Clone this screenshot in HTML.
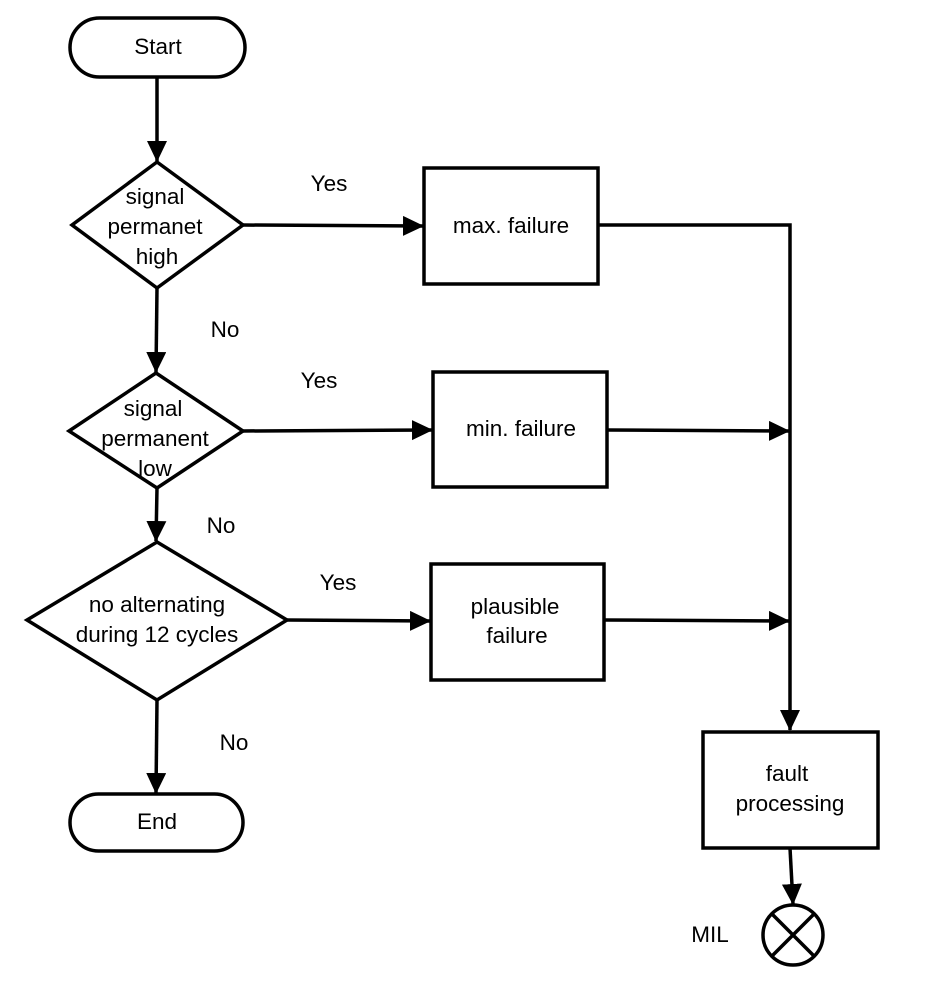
<!DOCTYPE html>
<html><head><meta charset="utf-8"><style>
html,body{margin:0;padding:0;background:#fff;}
svg{display:block;}
text{font-family:"Liberation Sans",Arial,sans-serif;font-size:22.5px;fill:#000;text-anchor:middle;}
</style></head><body>
<svg width="928" height="982" viewBox="0 0 928 982" xmlns="http://www.w3.org/2000/svg">
<defs>
<marker id="a" markerWidth="22" markerHeight="22" refX="20" refY="10" orient="auto" markerUnits="userSpaceOnUse">
<path d="M0,0 L21,10 L0,20 Z" fill="#000"/>
</marker>
</defs>
<g fill="none" stroke="#000" stroke-width="3.5">
<rect x="70" y="18" width="175" height="59" rx="29.5"/>
<rect x="70" y="794" width="173" height="57" rx="28.5"/>
<polygon points="157,162 243,225 157,288 72,225"/>
<polygon points="156,373 243,431 157,488 69,431"/>
<polygon points="157,542 287,620 157,700 27,620"/>
<rect x="424" y="168" width="174" height="116"/>
<rect x="433" y="372" width="174" height="115"/>
<rect x="431" y="564" width="173" height="116"/>
<rect x="703" y="732" width="175" height="116"/>
<circle cx="793" cy="935" r="30"/>
<line x1="772" y1="914" x2="814" y2="956"/>
<line x1="814" y1="914" x2="772" y2="956"/>
<line x1="157" y1="78" x2="157" y2="161" marker-end="url(#a)"/>
<line x1="157" y1="288" x2="156" y2="372" marker-end="url(#a)"/>
<line x1="157" y1="488" x2="156" y2="541" marker-end="url(#a)"/>
<line x1="157" y1="700" x2="156" y2="793" marker-end="url(#a)"/>
<line x1="243" y1="225" x2="423" y2="226" marker-end="url(#a)"/>
<line x1="243" y1="431" x2="432" y2="430" marker-end="url(#a)"/>
<line x1="287" y1="620" x2="430" y2="621" marker-end="url(#a)"/>
<polyline points="598,225 790,225 790,730" marker-end="url(#a)"/>
<line x1="607" y1="430" x2="789" y2="431" marker-end="url(#a)"/>
<line x1="604" y1="620" x2="789" y2="621" marker-end="url(#a)"/>
<line x1="790" y1="848" x2="793" y2="904" marker-end="url(#a)"/>
</g>
<text x="158" y="54">Start</text>
<text x="157" y="829">End</text>
<text x="155" y="204">signal</text>
<text x="155" y="234">permanet</text>
<text x="157" y="264">high</text>
<text x="153" y="416">signal</text>
<text x="155" y="446">permanent</text>
<text x="155" y="476">low</text>
<text x="157" y="612">no alternating</text>
<text x="157" y="642">during 12 cycles</text>
<text x="511" y="233">max. failure</text>
<text x="521" y="436">min. failure</text>
<text x="515" y="614">plausible</text>
<text x="517" y="643">failure</text>
<text x="787" y="781">fault</text>
<text x="790" y="811">processing</text>
<text x="329" y="191">Yes</text>
<text x="319" y="388">Yes</text>
<text x="338" y="590">Yes</text>
<text x="225" y="337">No</text>
<text x="221" y="533">No</text>
<text x="234" y="750">No</text>
<text x="710" y="942">MIL</text>
</svg>
</body></html>
